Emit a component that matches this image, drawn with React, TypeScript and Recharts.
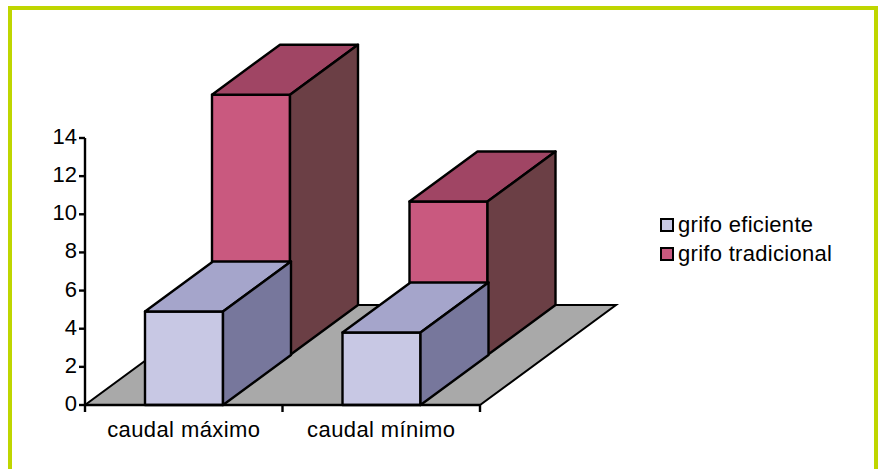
// App.tsx
import { BarChart, Bar, XAxis, YAxis, Legend, ReferenceArea } from "recharts";

const CATEGORIES = ["caudal máximo", "caudal mínimo"];
const GRIFO_EFICIENTE = [4.9, 3.8];
const GRIFO_TRADICIONAL = [13.65, 8.05];
const Y_TICKS = [0, 2, 4, 6, 8, 10, 12, 14];

const data = CATEGORIES.map((name, i) => ({
  name,
  eficiente: GRIFO_EFICIENTE[i],
  tradicional: GRIFO_TRADICIONAL[i],
}));

const FONT = '"Liberation Sans", Arial, sans-serif';
const DEPTH_X = 68;
const DEPTH_Y = 50;
const EDGE = 2.4;

const EFICIENTE = { front: "#c8c8e4", top: "#a5a5cb", side: "#77779c" };
const TRADICIONAL = { front: "#c9597f", top: "#a04564", side: "#6b3f45" };

// caja en falsa perspectiva; row = 0 delante, row = 1 detrás
function box(colors: typeof EFICIENTE, row: number) {
  return (props: any) => {
    const { width, height } = props;
    const x = props.x + row * (DEPTH_X - 1);
    const y = props.y - row * DEPTH_Y;
    const r = x + width;
    const b = y + height;
    return (
      <g stroke="#000" strokeWidth={EDGE} strokeLinejoin="round">
        <rect x={x} y={y} width={width} height={height} fill={colors.front} />
        <polygon
          points={`${x},${y} ${x + DEPTH_X},${y - DEPTH_Y} ${r + DEPTH_X},${y - DEPTH_Y} ${r},${y}`}
          fill={colors.top}
        />
        <polygon
          points={`${r},${y} ${r + DEPTH_X},${y - DEPTH_Y} ${r + DEPTH_X},${b - DEPTH_Y} ${r},${b}`}
          fill={colors.side}
        />
      </g>
    );
  };
}

function Floor(props: any) {
  const { x, y, width, height } = props;
  const b = y + height;
  return (
    <polygon
      points={`${x},${b} ${x + width},${b} ${x + width + DEPTH_X * 2},${b - DEPTH_Y * 2} ${x + DEPTH_X * 2},${b - DEPTH_Y * 2}`}
      fill="#a9a9a9"
      stroke="#000"
      strokeWidth={2}
    />
  );
}

function CategoryTick(props: any) {
  const { x, y, payload, index, width } = props;
  const band = width / CATEGORIES.length;
  const left = x - band / 2;
  return (
    <g>
      <line x1={left} y1={y - 8} x2={left} y2={y - 1} stroke="#000" strokeWidth={EDGE} />
      {index === CATEGORIES.length - 1 && (
        <line x1={left + band} y1={y - 8} x2={left + band} y2={y - 1} stroke="#000" strokeWidth={EDGE} />
      )}
      <text x={x} y={y + 24} textAnchor="middle" fontFamily={FONT} fontSize={22} letterSpacing={0.4} fill="#000">
        {payload.value}
      </text>
    </g>
  );
}

function YTick(props: any) {
  const { x, y, payload } = props;
  return (
    <text x={x} y={y + 6} textAnchor="end" fontFamily={FONT} fontSize={22} fill="#000">
      {payload.value}
    </text>
  );
}

function SideLegend() {
  const rows = [
    { label: "grifo eficiente", color: EFICIENTE.front },
    { label: "grifo tradicional", color: TRADICIONAL.front },
  ];
  return (
    <div style={{ fontFamily: FONT, fontSize: 22, letterSpacing: 0.3, lineHeight: "29px", color: "#000" }}>
      {rows.map((r) => (
        <div key={r.label} style={{ display: "flex", alignItems: "center", whiteSpace: "nowrap" }}>
          <span
            style={{
              width: 10,
              height: 10,
              marginRight: 4,
              background: r.color,
              border: "2px solid #000",
            }}
          />
          {r.label}
        </div>
      ))}
    </div>
  );
}

export default function App() {
  return (
    <div
      style={{
        position: "absolute",
        left: 0,
        top: 0,
        width: 879,
        height: 469,
        overflow: "hidden",
        background: "#fff",
      }}
    >
      <div
        style={{
          position: "absolute",
          left: 8,
          top: 6,
          width: 862,
          height: 470,
          border: "4px solid #bfd600",
        }}
      />
      <div style={{ position: "absolute", left: 0, top: 0 }}>
        <BarChart
          width={879}
          height={469}
          data={data}
          margin={{ top: 138, right: 399, bottom: 0, left: 0 }}
          barSize={78}
          barGap={-78}
        >
          <ReferenceArea shape={<Floor />} ifOverflow="visible" />
          <XAxis
            dataKey="name"
            height={64}
            stroke="#000"
            strokeWidth={EDGE}
            tickLine={false}
            interval={0}
            tick={<CategoryTick />}
          />
          <YAxis
            width={85}
            domain={[0, 14]}
            ticks={Y_TICKS}
            interval={0}
            stroke="#000"
            strokeWidth={EDGE}
            tickSize={6}
            tick={<YTick />}
          />
          <Bar dataKey="tradicional" isAnimationActive={false} shape={box(TRADICIONAL, 1)} />
          <Bar dataKey="eficiente" isAnimationActive={false} shape={box(EFICIENTE, 0)} />
          <Legend
            layout="horizontal"
            verticalAlign="middle"
            content={<SideLegend />}
            wrapperStyle={{ left: 660, top: 210, width: 200 }}
          />
        </BarChart>
      </div>
    </div>
  );
}
